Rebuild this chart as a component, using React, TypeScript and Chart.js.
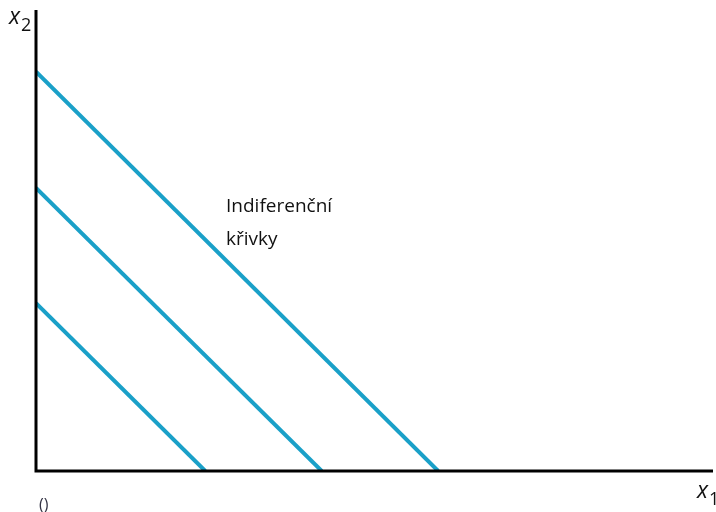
import React, { useEffect, useRef } from "react";
import { Chart, registerables } from "chart.js";

Chart.register(...registerables);

const curveNames = ["U1", "U2", "U3"];
const curve1X = [0, 25.0];
const curve1Y = [36.4, 0];
const curve2X = [0, 42.2];
const curve2Y = [61.4, 0];
const curve3X = [0, 59.4];
const curve3Y = [86.6, 0];
const labelLines = ["Indiferenční", "křivky"];
const xAxisLabel = "x";
const xAxisSub = "1";
const yAxisLabel = "x";
const yAxisSub = "2";
const originLabel = "()";

const lineColor = "#1aa0c8";

const overlay = {
  id: "overlay",
  afterDatasetsDraw(chart: any) {
    const { ctx, chartArea } = chart;
    const { left, right, top, bottom } = chartArea;
    ctx.save();
    ctx.strokeStyle = "#000";
    ctx.lineWidth = 3;
    ctx.beginPath();
    ctx.moveTo(left, top);
    ctx.lineTo(left, bottom);
    ctx.lineTo(right, bottom);
    ctx.stroke();

    ctx.fillStyle = "#111";
    ctx.textBaseline = "alphabetic";
    ctx.font = "19px 'Open Sans'";
    ctx.fillText(labelLines[0], 226, 212);
    ctx.fillText(labelLines[1], 226, 245);

    ctx.font = "italic 23px 'Open Sans'";
    ctx.fillText(yAxisLabel, 9, 24);
    ctx.font = "18px 'Open Sans'";
    ctx.fillText(yAxisSub, 21, 31);

    ctx.font = "italic 23px 'Open Sans'";
    ctx.fillText(xAxisLabel, 697, 498);
    ctx.font = "18px 'Open Sans'";
    ctx.fillText(xAxisSub, 709, 505);

    ctx.font = "16px 'Open Sans'";
    ctx.fillStyle = "#334";
    ctx.fillText(originLabel, 39, 510);
    ctx.restore();
  },
};

export default function App() {
  const ref = useRef<HTMLCanvasElement>(null);
  useEffect(() => {
    document.body.style.margin = "0";
    const mk = (xs: number[], ys: number[], name: string) => ({
      label: name,
      data: xs.map((x, i) => ({ x, y: ys[i] })),
      borderColor: lineColor,
      borderWidth: 4,
      pointRadius: 0,
      showLine: true,
      fill: false,
    });
    const chart = new Chart(ref.current!, {
      type: "scatter",
      data: {
        datasets: [
          mk(curve1X, curve1Y, curveNames[0]),
          mk(curve2X, curve2Y, curveNames[1]),
          mk(curve3X, curve3Y, curveNames[2]),
        ],
      },
      options: {
        animation: false,
        responsive: false,
        layout: { padding: { left: 36, right: 3, top: 10, bottom: 41 } },
        plugins: { legend: { display: false }, tooltip: { enabled: false } },
        scales: {
          x: { type: "linear", min: 0, max: 100, display: false },
          y: { type: "linear", min: 0, max: 100, display: false },
        },
      },
      plugins: [overlay],
    });
    return () => chart.destroy();
  }, []);
  return (
    <div style={{ position: "absolute", left: 0, top: 0, width: 716, height: 512, background: "#fff" }}>
      <canvas ref={ref} width={716} height={512} />
    </div>
  );
}
